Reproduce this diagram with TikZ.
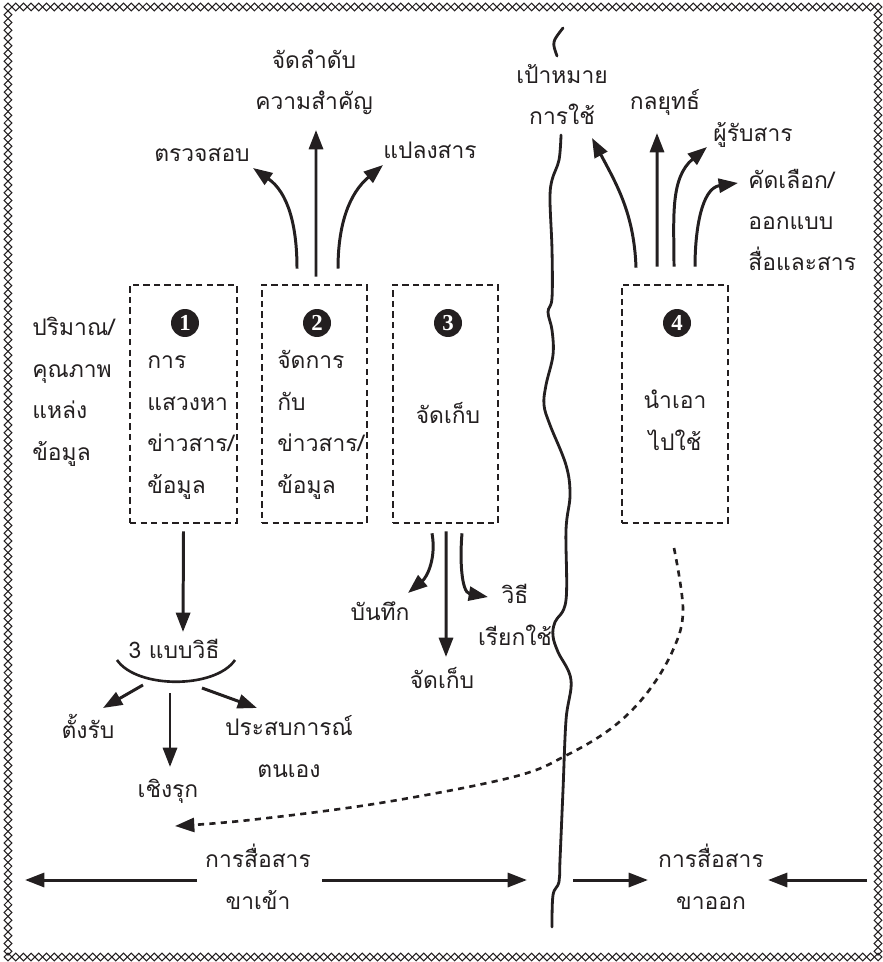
\documentclass[tikz,border=0pt]{standalone}
\usepackage{fontspec}
\setmainfont[Script=Thai]{Loma}
\newfontfamily\numfont{Liberation Serif}
\usetikzlibrary{arrows.meta}
\definecolor{ink}{RGB}{35, 31, 32}
\setlength{\lineskiplimit}{-30pt}

\begin{document}
\begin{tikzpicture}[x=0.02cm, y=-0.02cm, ink,
    every node/.style={font=\fontsize{13}{23.6}\selectfont, text=ink, inner sep=0pt},
    lbl/.style={align=left, anchor=base west},
    ctr/.style={align=center, anchor=base},
    stagebox/.style={draw, line width=1.5pt, dash pattern=on 3.6pt off 2.4pt, minimum height=4.76cm},
    numdot/.style={circle, fill=ink, text=white, minimum size=0.56cm, font=\numfont\bfseries\fontsize{13}{13}\selectfont},
    arr/.style={line width=1.7pt, -{Triangle[length=11pt,width=8pt]}},
    dasharr/.style={line width=1.5pt, dash pattern=on 3.5pt off 3pt, -{Triangle[length=11pt,width=8pt]}},
    wave/.style={line width=1.6pt, line cap=round},
    border/.style={line width=0.6pt}]
\useasboundingbox (0,0) rectangle (882,962);

\foreach \i in {0,...,113} {
    \draw[border, shift={(8+\i*7.7,7)}]   (-3.85,0) -- (0,-3.85) -- (3.85,0) -- (0,3.85) -- cycle;
    \draw[border, shift={(8+\i*7.7,957)}] (-3.85,0) -- (0,-3.85) -- (3.85,0) -- (0,3.85) -- cycle;
}
\foreach \j in {1,...,122} {
    \draw[border, shift={(8,7+\j*7.74)}]   (-3.85,0) -- (0,-3.85) -- (3.85,0) -- (0,3.85) -- cycle;
    \draw[border, shift={(878,7+\j*7.74)}] (-3.85,0) -- (0,-3.85) -- (3.85,0) -- (0,3.85) -- cycle;
}

\node[stagebox, minimum width=2.14cm] (box1) at (183.5,404) {};
\node[stagebox, minimum width=2.10cm] (box2) at (314.5,404) {};
\node[stagebox, minimum width=2.10cm] (box3) at (445.5,404) {};
\node[stagebox, minimum width=2.12cm] (box4) at (675.0,404) {};

\node[numdot] (num1) at (185,323) {1};
\node[numdot] (num2) at (317,323) {2};
\node[numdot] (num3) at (448,323) {3};
\node[numdot] (num4) at (677,323) {4};

\node[lbl] (source) at ( 32,460) {ปริมาณ/\\คุณภาพ\\แหล่ง\\ข้อมูล};
\node[lbl] (seek)   at (147,493) {การ\\แสวงหา\\ข่าวสาร/\\ข้อมูล};
\node[lbl] (handle) at (277,493) {จัดการ\\กับ\\ข่าวสาร/\\ข้อมูล};
\node[ctr] (keep)   at (448,423) {จัดเก็บ};
\node[ctr] (apply)  at (675,450) {นำเอา\\ไปใช้};

\node[ctr] (check)   at (202,162) {ตรวจสอบ};
\node[ctr] (convert) at (430,159) {แปลงสาร};
\node[ctr] (rank)    at (314,110) {จัดลำดับ\\ความสำคัญ};
\node[ctr] (goal)    at (562,125) {เป้าหมาย\\การใช้};
\node[ctr] (strat)   at (665,110) {กลยุทธ์};
\node[ctr] (recv)    at (753,142) {ผู้รับสาร};
\node[lbl] (select)  at (748,271) {คัดเลือก/\\ออกแบบ\\สื่อและสาร};

\node[ctr] (record) at (380,620) {บันทึก};
\node[ctr] (store)  at (442,688) {จัดเก็บ};
\node[ctr] (recall) at (515,645) {วิธี\\เรียกใช้};

\node[ctr] (method)  at (174,658) {3 แบบวิธี};
\node[ctr] (passive) at ( 88,738) {ตั้งรับ};
\node[ctr] (active)  at (168,797) {เชิงรุก};
\node[ctr] (self)    at (289,777) {ประสบการณ์\\ตนเอง};

\node[ctr] (comin)  at (258,909) {การสื่อสาร\\ขาเข้า};
\node[ctr] (comout) at (711,909) {การสื่อสาร\\ขาออก};

\coordinate (checktip) at (253,168);
\coordinate (convtip)  at (383,165);
\coordinate (ranktip)  at (316,130);
\coordinate (goaltip)  at (592,138);
\coordinate (strattip) at (657,133);
\coordinate (recvtip)  at (707,147);
\coordinate (seltip)   at (738,183);
\coordinate (rectip)   at (408,593);
\coordinate (calltip)  at (488,597);
\coordinate (storetip) at (446,657);
\coordinate (methtip)  at (183,632);
\coordinate (arcL)     at (117,660);
\coordinate (arcR)     at (235,660);
\coordinate (arcA)     at (143,685);
\coordinate (arcB)     at (170,693);
\coordinate (arcC)     at (202,688);

\draw[arr] ([xshift=-0.35cm,yshift=0.30cm]box2.north) to[out=90,in=-35]  (checktip);
\draw[arr] ([xshift=0.03cm,yshift=0.14cm]box2.north)  --                 (ranktip);
\draw[arr] ([xshift=0.47cm,yshift=0.30cm]box2.north)  to[out=90,in=-140] (convtip);

\draw[arr] ([xshift=-0.78cm,yshift=0.32cm]box4.north) to[out=92,in=-62]  (goaltip);
\draw[arr] ([xshift=-0.36cm,yshift=0.34cm]box4.north) --                 (strattip);
\draw[arr] ([xshift=-0.02cm,yshift=0.34cm]box4.north) to[out=90,in=-140] (recvtip);
\draw[arr] ([xshift=0.40cm,yshift=0.34cm]box4.north)  to[out=90,in=-172] (seltip);

\draw[arr] ([xshift=-0.27cm,yshift=-0.18cm]box3.south) to[out=-80,in=40] (rectip);
\draw[arr] ([xshift=0.01cm,yshift=-0.14cm]box3.south)  --                (storetip);
\draw[arr] ([xshift=0.33cm,yshift=-0.18cm]box3.south)  to[out=-95,in=170] (calltip);

\draw[arr] ([yshift=-0.14cm]box1.south) -- (methtip);
\draw[line width=1.5pt] (arcL) .. controls (137,689) and (215,689) .. (arcR);
\draw[arr] (arcA) -- (103,708);
\draw[arr] (arcB) -- (170,767);
\draw[arr] (arcC) -- (257,708);

\draw[wave] (563,28) .. controls (552,42) .. (557,56);
\draw[wave] plot[smooth, tension=0.6] coordinates {(561,135) (559,160) (552,180) (550,200) (552,250) (552,298) (548,312) (552,330) (553,355) (546,385) (544,405) (550,425) (566,465) (570,495) (566,530) (566,600) (555,622) (553,636) (558,652) (571,680) (566,720) (563,790) (560,860) (559,882) (553,895) (552,927)};

\draw[dasharr] plot[smooth, tension=0.6] coordinates {(674,548) (683,610) (673,650) (647,693) (613,727) (567,755) (513,777) (380,803) (250,820) (175,826)};

\draw[arr] (197,880) -- (25,880);
\draw[arr] (322,880) -- (527,880);
\draw[arr] (573,880) -- (648,880);
\draw[arr] (867,880) -- (768,880);
\end{tikzpicture}
\end{document}
